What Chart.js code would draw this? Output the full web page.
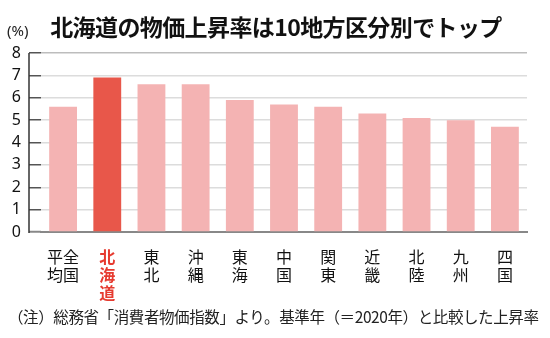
<!DOCTYPE html>
<html>
<head>
<meta charset="utf-8">
<script src="https://cdn.jsdelivr.net/npm/chart.js@4"></script>
<style>
  body { margin: 0; background: #fff; }
  #wrap { position: relative; width: 550px; height: 338px; font-family: "Noto Sans CJK JP", "Noto Sans", sans-serif; }
  #title { position: absolute; left: 0; top: 9px; width: 552px; text-align: center; font-size: 23px; font-weight: bold; color: #111; letter-spacing: -0.6px; }
  #unit { position: absolute; left: 7px; top: 20px; font-size: 15px; color: #222; font-family: "Noto Sans", sans-serif; }
  #note { position: absolute; left: 8px; top: 305px; font-size: 15.5px; color: #222; letter-spacing: -0.4px; white-space: nowrap; }
  canvas { position: absolute; left: 0; top: 0; }
</style>
</head>
<body>
<div id="wrap">
  <canvas id="c" width="550" height="338"></canvas>
  <div id="title">北海道の物価上昇率は10地方区分別でトップ</div>
  <div id="unit">(%)</div>
  <div id="note">（注）総務省「消費者物価指数」より。基準年（＝2020年）と比較した上昇率</div>
</div>
<script>
const categories = ['全国平均', '北海道', '東北', '沖縄', '東海', '中国', '関東', '近畿', '北陸', '九州', '四国'];
const rates = [5.6, 6.9, 6.6, 6.6, 5.9, 5.7, 5.6, 5.3, 5.1, 5.0, 4.7];
const highlight = '北海道';
const yTicks = [0, 1, 2, 3, 4, 5, 6, 7, 8];

// vertical writing: 4-char names go in two columns, right to left
function verticalLabel(name) {
    if (name.length === 4) {
        return [name[2] + name[0], name[3] + name[1]];
    }
    return name.split('');
}

const axisLeftLine = {
    id: 'axisLeftLine',
    afterDraw(chart) {
        const y = chart.scales.y;
        const ctx = chart.ctx;
        const x = chart.chartArea.left - 12;
        ctx.save();
        ctx.strokeStyle = '#333';
        ctx.lineWidth = 1.5;
        ctx.beginPath();
        ctx.moveTo(x, y.getPixelForValue(yTicks[yTicks.length - 1]));
        ctx.lineTo(x, y.getPixelForValue(0) + 1);
        ctx.stroke();
        ctx.restore();
    }
};

new Chart(document.getElementById('c'), {
    type: 'bar',
    data: {
        labels: categories.map(verticalLabel),
        datasets: [{
            data: rates,
            backgroundColor: categories.map(c => c === highlight ? '#e8574a' : '#f4b3b3'),
            borderWidth: 0,
            barPercentage: 0.63,
            categoryPercentage: 1
        }]
    },
    options: {
        responsive: false,
        animation: false,
        layout: { padding: { top: 53, right: 23, left: 0, bottom: 0 } },
        plugins: { legend: { display: false }, tooltip: { enabled: false } },
        scales: {
            x: {
                grid: { display: false },
                border: { display: true, color: '#888', width: 2 },
                ticks: {
                    autoSkip: false,
                    maxRotation: 0,
                    padding: 8,
                    color: ctx => categories[ctx.index] === highlight ? '#e63b30' : '#111',
                    font: ctx => ({
                        family: '"Noto Sans CJK JP", sans-serif',
                        size: 16,
                        lineHeight: 1.12,
                        weight: categories[ctx.index] === highlight ? 'bold' : 'normal'
                    })
                },
                afterFit: s => { s.height = 106; }
            },
            y: {
                min: 0,
                max: 8,
                afterBuildTicks: s => { s.ticks = yTicks.map(v => ({ value: v })); },
                border: { display: false },
                grid: {
                    color: ctx => ctx.tick.value === 8 ? '#bdbdbd' : (ctx.tick.value === 0 ? 'rgba(0,0,0,0)' : '#dcdcdc'),
                    lineWidth: 1.5,
                    tickLength: 12,
                    tickColor: ctx => ctx.tick.value === 0 ? '#888' : '#555',
                    tickWidth: ctx => ctx.tick.value === 0 ? 2 : 1.5
                },
                ticks: {
                    padding: 8,
                    color: '#111',
                    font: { family: '"Noto Sans", sans-serif', size: 16 }
                },
                afterFit: s => { s.width = 41; }
            }
        }
    },
    plugins: [axisLeftLine]
});
</script>
</body>
</html>
